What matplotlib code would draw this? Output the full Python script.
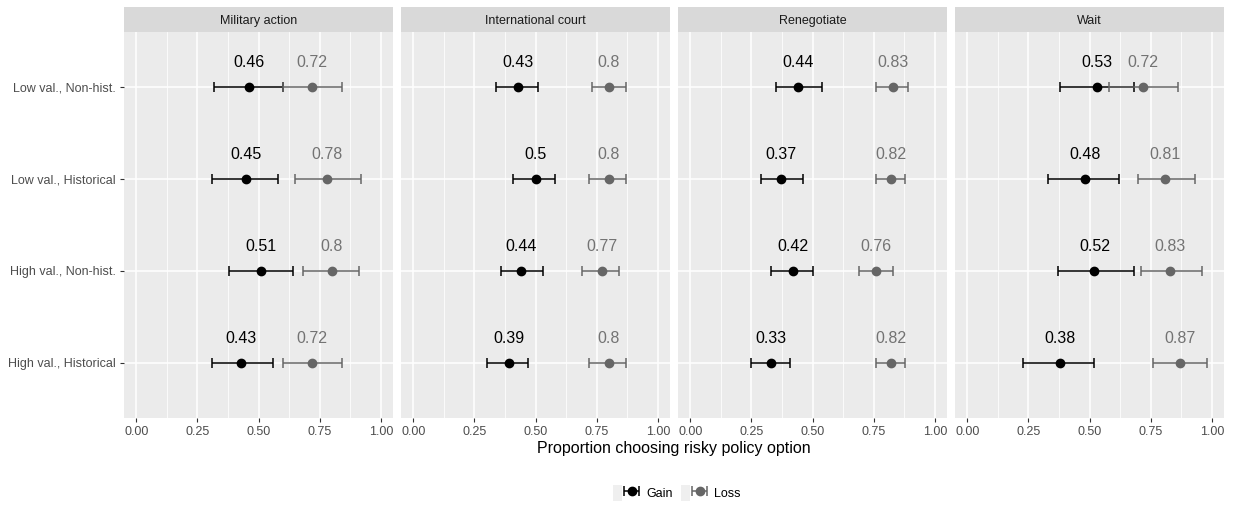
import numpy as np
import matplotlib
matplotlib.use('Agg')
import matplotlib.pyplot as plt
from matplotlib.patches import Patch
from matplotlib.container import ErrorbarContainer
from matplotlib.legend_handler import HandlerTuple, HandlerErrorbar

plt.rcParams['font.family'] = ['Liberation Sans', 'DejaVu Sans']

panels = ['Military action', 'International court', 'Renegotiate', 'Wait']
conditions = ['Low val., Non-hist.', 'Low val., Historical',
              'High val., Non-hist.', 'High val., Historical']

# one row per panel, columns follow `conditions`
gainMean = [[0.46, 0.45, 0.51, 0.43],
            [0.43, 0.50, 0.44, 0.39],
            [0.44, 0.37, 0.42, 0.33],
            [0.53, 0.48, 0.52, 0.38]]
gainLow = [[0.32, 0.31, 0.38, 0.31],
           [0.34, 0.41, 0.36, 0.30],
           [0.35, 0.29, 0.33, 0.25],
           [0.38, 0.33, 0.37, 0.23]]
gainHigh = [[0.60, 0.58, 0.64, 0.56],
            [0.51, 0.58, 0.53, 0.47],
            [0.54, 0.46, 0.50, 0.41],
            [0.68, 0.62, 0.68, 0.52]]

lossMean = [[0.72, 0.78, 0.80, 0.72],
            [0.80, 0.80, 0.77, 0.80],
            [0.83, 0.82, 0.76, 0.82],
            [0.72, 0.81, 0.83, 0.87]]
lossLow = [[0.60, 0.65, 0.68, 0.60],
           [0.73, 0.72, 0.69, 0.72],
           [0.76, 0.76, 0.69, 0.76],
           [0.58, 0.70, 0.71, 0.76]]
lossHigh = [[0.84, 0.92, 0.91, 0.84],
            [0.87, 0.87, 0.84, 0.87],
            [0.89, 0.88, 0.83, 0.88],
            [0.86, 0.93, 0.96, 0.98]]

xTicks = [0.0, 0.25, 0.5, 0.75, 1.0]
xTickLabels = ['0.00', '0.25', '0.50', '0.75', '1.00']

GAIN_COLOR = 'black'
LOSS_COLOR = '#666666'
LOSS_TEXT = '#737373'


def main():
    W, H = 1233, 505
    fig = plt.figure(figsize=(W / 100, H / 100), dpi=100)
    panelLeft, panelW, gap = 124, 269, 8
    panelTop, panelBottom, stripH = 32, 418, 25

    y = np.arange(len(conditions))[::-1] + 1
    handles = None
    for i, name in enumerate(panels):
        left = (panelLeft + i * (panelW + gap)) / W
        ax = fig.add_axes([left, 1 - panelBottom / H, panelW / W, (panelBottom - panelTop) / H])
        ax.set_facecolor('#EBEBEB')
        for s in ax.spines.values():
            s.set_visible(False)
        ax.set_xlim(-0.05, 1.05)
        ax.set_ylim(0.4, len(conditions) + 0.6)
        ax.set_xticks(xTicks)
        ax.set_xticklabels(xTickLabels)
        ax.set_xticks(np.arange(0.125, 1.0, 0.25), minor=True)
        ax.set_yticks(y)
        ax.grid(True, which='major', color='white', lw=1.1)
        ax.grid(True, which='minor', axis='x', color='white', lw=0.55)
        ax.set_axisbelow(True)
        ax.tick_params(which='minor', length=0)
        ax.tick_params(which='major', length=3, width=0.8, color='#333333',
                       labelcolor='#4D4D4D', labelsize=9, pad=3)
        if i == 0:
            ax.set_yticklabels(conditions)
        else:
            ax.set_yticklabels([])
            ax.tick_params(axis='y', length=0)

        gm, gl, gh = np.array(gainMean[i]), np.array(gainLow[i]), np.array(gainHigh[i])
        lm, ll, lh = np.array(lossMean[i]), np.array(lossLow[i]), np.array(lossHigh[i])
        ebGain = ax.errorbar(gm, y, xerr=[gm - gl, gh - gm], fmt='o', color=GAIN_COLOR,
                             ms=6, elinewidth=1.1, capsize=3.3, capthick=1.1)
        ebLoss = ax.errorbar(lm, y, xerr=[lm - ll, lh - lm], fmt='o', color=LOSS_COLOR,
                             ms=6, elinewidth=1.1, capsize=3.3, capthick=1.1)
        for a, b in zip(gm, y):
            ax.text(a, b + 0.22, '%g' % a, ha='center', va='baseline', fontsize=11.5, color=GAIN_COLOR)
        for a, b in zip(lm, y):
            ax.text(a, b + 0.22, '%g' % a, ha='center', va='baseline', fontsize=11.5, color=LOSS_TEXT)
        if handles is None:
            handles = [ebGain, ebLoss]

        strip = fig.add_axes([left, 1 - panelTop / H, panelW / W, stripH / H])
        strip.set_facecolor('#D9D9D9')
        strip.set_xticks([])
        strip.set_yticks([])
        for s in strip.spines.values():
            s.set_visible(False)
        strip.text(0.5, 0.5, name, ha='center', va='center_baseline', fontsize=9, color='#1A1A1A',
                   transform=strip.transAxes)

    fig.text((panelLeft + (4 * panelW + 3 * gap) / 2) / W, 1 - 449 / H,
             'Proportion choosing risky policy option', ha='center', va='center', fontsize=11.5)

    keyBg = Patch(facecolor='#EFEFEF', edgecolor='none')
    fig.legend([(keyBg, handles[0]), (keyBg, handles[1])], ['Gain', 'Loss'],
               handler_map={tuple: HandlerTuple(ndivide=None),
                            ErrorbarContainer: HandlerErrorbar(xerr_size=0.6)},
               loc='center', bbox_to_anchor=(0.549, 1 - 493 / H), ncol=2, frameon=False,
               fontsize=9, handlelength=1.9, handleheight=1.6, handletextpad=0.8,
               columnspacing=0.6)

    fig.savefig('out.png', dpi=100, facecolor='white')


if __name__ == "__main__":
    main()
